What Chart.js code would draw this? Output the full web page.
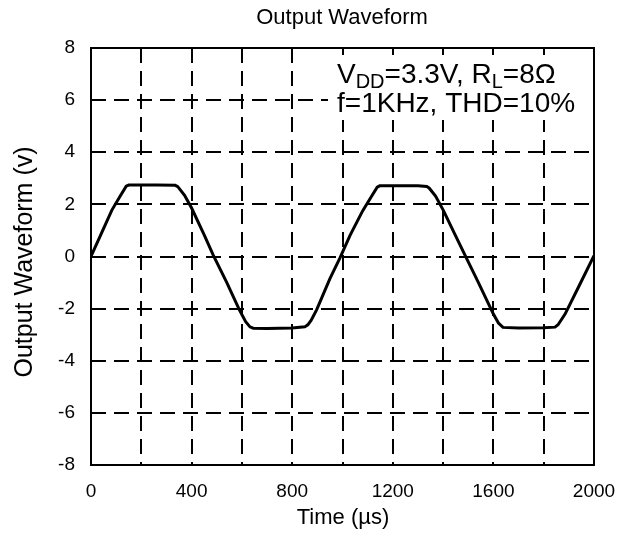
<!DOCTYPE html>
<html>
<head>
<meta charset="utf-8">
<script src="https://cdn.jsdelivr.net/npm/chart.js@4.4.1/dist/chart.umd.min.js"></script>
<style>
  html, body { margin: 0; padding: 0; background: #fff; }
  #wrap { width: 626px; height: 533px; position: relative; }
</style>
</head>
<body>
<div id="wrap"><canvas id="chart"></canvas></div>
<script>
// time in microseconds
const timeUs = [0, 40, 83, 115, 140, 150, 200, 260, 335, 345, 372, 400, 450, 486, 540, 590, 615, 632, 645, 700, 800, 850, 862, 875, 897, 950, 990, 1030, 1080, 1115, 1138, 1148, 1200, 1300, 1335, 1345, 1370, 1401, 1445, 1487, 1540, 1600, 1620, 1638, 1700, 1800, 1845, 1857, 1885, 1940, 2000];
// output voltage (V)
const outputV = [0, 0.86, 1.78, 2.3, 2.70, 2.74, 2.74, 2.74, 2.73, 2.68, 2.35, 1.86, 0.83, 0.05, -1.0, -2.05, -2.5, -2.70, -2.75, -2.76, -2.74, -2.70, -2.62, -2.45, -2.05, -0.85, -0.05, 0.81, 1.75, 2.3, 2.66, 2.71, 2.71, 2.71, 2.69, 2.62, 2.32, 1.77, 0.89, 0.05, -0.99, -2.21, -2.55, -2.72, -2.74, -2.73, -2.71, -2.62, -2.21, -1.14, 0.03];

const xTicks = [0, 200, 400, 600, 800, 1000, 1200, 1400, 1600, 1800, 2000];
const yTicks = [-8, -6, -4, -2, 0, 2, 4, 6, 8];

const FONT = "'Liberation Sans', Arial, sans-serif";

const points = timeUs.map((t, i) => ({ x: t, y: outputV[i] }));

// frame, titles and the condition note
const decor = {
  id: 'decor',
  afterDraw(chart) {
    const { ctx, chartArea: a } = chart;
    ctx.save();
    ctx.fillStyle = '#000';
    ctx.textAlign = 'center';
    ctx.textBaseline = 'middle';
    ctx.font = '22px ' + FONT;
    ctx.fillText('Output Waveform', 342, 18);

    ctx.font = '22px ' + FONT;
    ctx.fillText('Time (\u00b5s)', 343, 518);

    ctx.save();
    ctx.translate(25, 262);
    ctx.rotate(-Math.PI / 2);
    ctx.font = '25px ' + FONT;
    ctx.fillText('Output Waveform (v)', 0, 0);
    ctx.restore();

    // note box
    ctx.fillStyle = '#fff';
    ctx.fillRect(328, 55, 262, 65);
    ctx.fillStyle = '#000';
    ctx.textAlign = 'left';
    ctx.textBaseline = 'alphabetic';
    let x = 337;
    const y1 = 83, big = '28px ' + FONT, small = '20px ' + FONT;
    const parts = [['V', big, 0], ['DD', small, 5], ['=3.3V, R', big, 0], ['L', small, 5], ['=8\u03a9', big, 0]];
    parts.forEach(([s, f, dy]) => {
      ctx.font = f;
      ctx.fillText(s, x, y1 + dy);
      x += ctx.measureText(s).width;
    });
    ctx.font = big;
    ctx.fillText('f=1KHz, THD=10%', 337, 112);

    ctx.strokeStyle = '#000';
    ctx.lineWidth = 2;
    ctx.strokeRect(a.left, a.top, a.right - a.left, a.bottom - a.top);
    ctx.restore();
  }
};

new Chart(document.getElementById('chart'), {
  type: 'line',
  data: {
    datasets: [{
      data: points,
      borderColor: '#000',
      borderWidth: 3,
      pointRadius: 0,
      tension: 0,
      fill: false
    }]
  },
  options: {
    responsive: true,
    maintainAspectRatio: false,
    animation: false,
    layout: { padding: { top: 48, right: 32, left: 0, bottom: 0 } },
    plugins: { legend: { display: false }, title: { display: false }, tooltip: { enabled: false } },
    scales: {
      x: {
        type: 'linear',
        min: 0,
        max: 2000,
        afterBuildTicks: (s) => { s.ticks = xTicks.map(v => ({ value: v })); },
        afterFit: (s) => { s.height = 68; s.paddingLeft = 0; s.paddingRight = 0; },
        ticks: {
          color: '#000',
          font: { family: FONT, size: 19 },
          padding: 15,
          maxRotation: 0,
          autoSkip: false,
          callback: (v) => (v % 400 === 0 ? String(v) : '')
        },
        grid: { color: '#000', lineWidth: 2, drawTicks: false },
        border: { display: false, dash: [15, 8] }
      },
      y: {
        min: -8,
        max: 8,
        afterBuildTicks: (s) => { s.ticks = yTicks.map(v => ({ value: v })); },
        afterFit: (s) => { s.width = 91; s.paddingTop = 0; s.paddingBottom = 0; },
        ticks: {
          color: '#000',
          font: { family: FONT, size: 19 },
          padding: 16,
          autoSkip: false
        },
        grid: { color: '#000', lineWidth: 2, drawTicks: false },
        border: { display: false, dash: [15, 8] }
      }
    }
  },
  plugins: [decor]
});
</script>
</body>
</html>
